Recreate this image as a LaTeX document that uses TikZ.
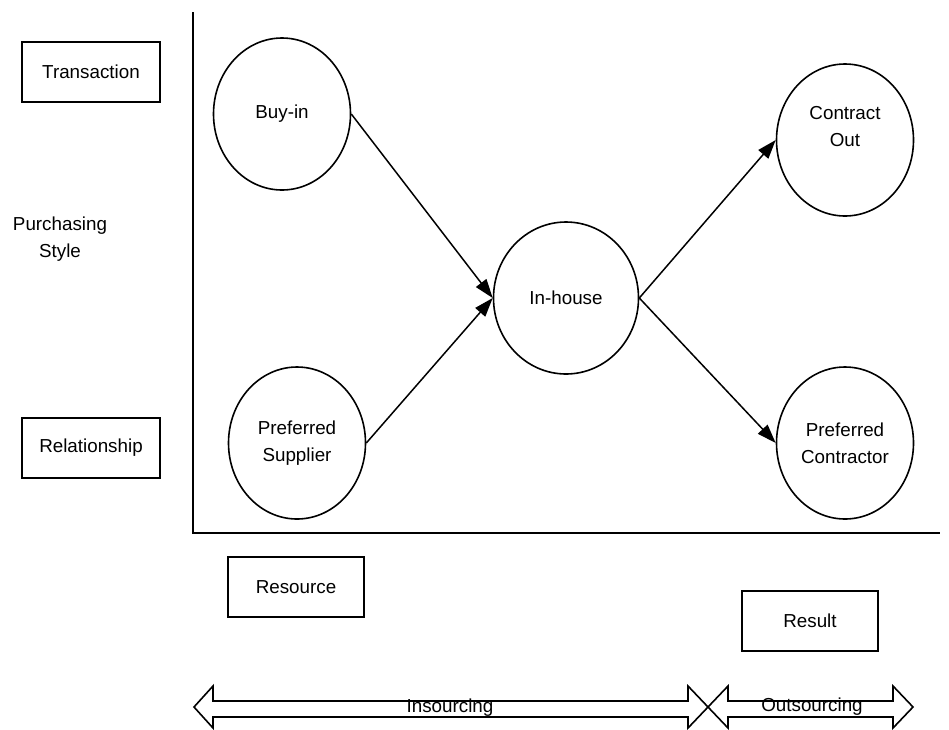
\documentclass[tikz,border=0pt]{standalone}
\usepackage{fontspec}
\setmainfont{Liberation Sans}
\usetikzlibrary{shapes.geometric,arrows.meta}
\tikzstyle{circ}=[ellipse,draw=black,line width=1.6pt,inner sep=2pt,
  minimum width=137pt,minimum height=152pt,align=center]
\tikzstyle{box}=[rectangle,draw=black,line width=1.6pt,
  minimum width=138pt,minimum height=60pt]
\tikzstyle{flow}=[-{Triangle[length=19pt,width=13pt]},line width=1.5pt]
\tikzstyle{none}=[align=center]

\begin{document}
\begin{tikzpicture}[x=1pt,y=-1pt,font=\fontsize{18.8}{27}\selectfont]
            \useasboundingbox (0,0) rectangle (949,729);
            \node [style=box] (0) at (91, 72) {Transaction};
            \node [style=box] (1) at (91, 448) {Relationship};
            \node [style=none] (2) at (60, 239) {Purchasing\\Style};
            \node [style=box, minimum width=136pt] (3) at (296, 587) {Resource};
            \node [style=box, minimum width=136pt] (4) at (810, 621) {Result};
            \node [style=circ] (5) at (282, 114) {Buy-in};
            \node [style=circ] (6) at (297, 443) {Preferred\\Supplier};
            \node [style=circ, minimum width=145pt] (7) at (566, 298) {In-house};
            \node [style=circ] (8) at (845, 140) {Contract\\Out\\\mbox{}};
            \node [style=circ] (9) at (845, 443) {Preferred\\Contractor};
            \coordinate (10) at (193, 12);
            \coordinate (11) at (193, 533);
            \coordinate (12) at (940, 533);
            \draw [line width=2pt] (10) to (11) to (12);
            \draw [style=flow] (5.east) to (7.west);
            \draw [style=flow] (6.east) to (7.west);
            \draw [style=flow] (7.east) to (8.west);
            \draw [style=flow] (7.east) to (9.west);
            \draw [line width=1.6pt] (194,707) -- (213,686) -- (213,701) -- (688,701)
              -- (688,686) -- (708,707) -- (688,728) -- (688,717) -- (213,717)
              -- (213,728) -- cycle;
            \draw [line width=1.6pt] (708,707) -- (728,686) -- (728,701) -- (893,701)
              -- (893,686) -- (913,707) -- (893,728) -- (893,717) -- (728,717)
              -- (728,728) -- cycle;
            \node [style=none] (13) at (450, 708) {Insourcing};
            \node [style=none] (14) at (812, 707) {Outsourcing};
    \end{tikzpicture}
\end{document}
